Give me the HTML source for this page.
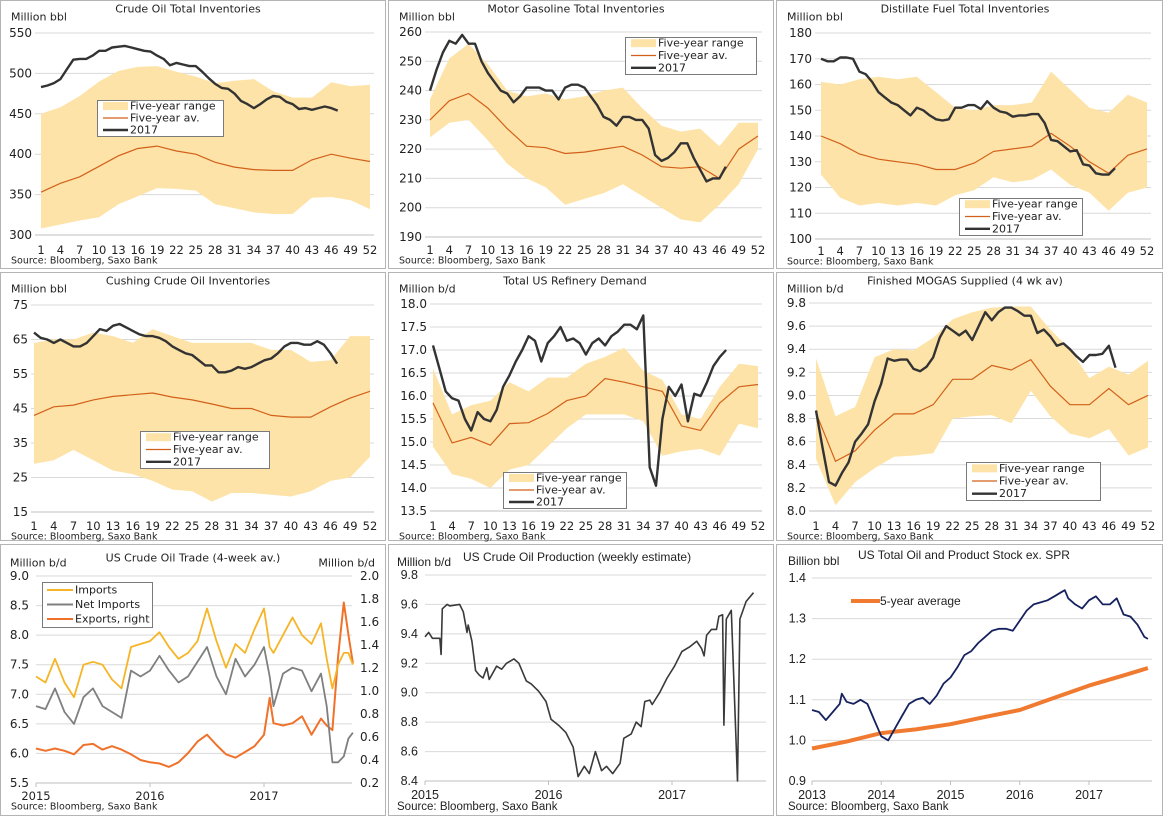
<!DOCTYPE html>
<html><head><meta charset="utf-8"><style>
html,body{margin:0;padding:0;background:#fff;}
svg{display:block;}
.t{font-family:"DejaVu Sans","Liberation Sans",sans-serif;fill:#222;}
.n{font-family:"Liberation Sans",sans-serif;fill:#222;}
</style></head><body>
<svg id="chart" width="1163" height="816" viewBox="0 0 1163 816" xmlns="http://www.w3.org/2000/svg"></svg>
<script>
// ---------- DATA ----------
const bandWeeks=[1,4,7,10,13,16,19,22,25,28,31,34,37,40,43,46,49,52];
const xWeekTicks=[1,4,7,10,13,16,19,22,25,28,31,34,37,40,43,46,49,52];
// crude
const crudeHigh=[450,458,472,490,503,508,509,502,496,488,491,493,478,470,470,489,484,486];
const crudeLow=[308,313,318,322,338,348,358,357,355,338,333,328,326,326,346,347,343,332];
const crudeAvg=[353,364,372,385,398,407,410,404,400,390,384,381,380,380,393,400,395,391];
const crude2017=[483,485,488,493,505,517,518,518,522,528,528,532,533,534,532,530,528,527,522,518,510,513,511,509,509,502,494,487,482,481,475,466,462,457,462,468,472,471,465,462,456,457,455,457,459,457,454];
const crudeTicks=[300,350,400,450,500,550];
// gasoline
const gasHigh=[237,251,256,249,240,238,239,237,238,240,241,234,228,226,227,221,229,229];
const gasLow=[224,229,230,223,215,210,207,201,203,205,208,204,200,196,195,201,208,220];
const gasAvg=[230,236.5,239,234,227,221,220.5,218.5,219,220,221,218,214,213.5,214,210,220,224.5];
const gas2017=[240,247,253,257,256,259,256,256,250,246,243,240,239,236,238,241,241,241,240,240,237,241,242,242,241,238,235,231,230,228,231,231,230,230,227,218,216,217,219,222,222,217,213,209,210,210,214];
const gasTicks=[190,200,210,220,230,240,250,260];
// distillate
const distHigh=[161,160,162,163,162,163,157,151,150,152,152,153,165,158,151,149,156,153];
const distLow=[125,116,113,114,113,114,113,117,119,124,122,123,127,121,118,111,118,120];
const distAvg=[140,137,133,131,130,129,127,127,129.5,134,135,136,141,136,130,125.5,132.5,135];
const dist2017=[170,169,169,170.5,170.5,170,165,164,161,157,155,153,152,150,148,151,150,148,146.5,146,146.5,151,151,152,152,150.5,153.5,151,149.5,149,147.5,148,148,148.5,148.5,145,138.5,138,136,134,134.5,129,128.5,125.5,125,125,127.5];
const distTicks=[100,110,120,130,140,150,160,170,180];
// cushing
const cushHigh=[64,65,65,67,66,64,68,66,64,64,64,64,62,62,58.5,59,66,66];
const cushLow=[29,30,33,30,27,26,24,21.5,21,18,20.5,20.5,20,19.5,21,24,25,31];
const cushAvg=[43,45.5,46,47.5,48.5,49,49.5,48.3,47.5,46.3,45,45,43,42.5,42.5,45.5,48,50];
const cush2017=[67,65.5,65,64,65,64,63,63,64,66,68,67.5,69,69.5,68.5,67.5,66.5,66,66,65.5,64.5,63,62,61,60.5,59,57.5,57.5,55.5,55.5,56,57,56.5,57,58,59,59.5,61,63,64,64,63.5,63.5,64.5,63.5,61,58];
const cushTicks=[15,25,35,45,55,65,75];
// refinery
const refHigh=[16.6,15.6,15.8,15.9,16.3,16.1,16.4,16.4,16.7,16.85,17.05,16.55,16.35,15.6,15.5,16.2,16.7,16.65];
const refLow=[14.9,14.3,14.2,14.0,14.4,14.5,14.9,15.3,15.6,15.6,15.6,15.45,14.7,14.8,14.85,14.7,15.4,15.3];
const refAvg=[15.85,14.98,15.1,14.93,15.4,15.42,15.62,15.9,16.0,16.38,16.3,16.2,16.1,15.35,15.25,15.85,16.2,16.25];
const ref2017=[17.1,16.6,16.1,15.95,15.9,15.5,15.25,15.65,15.5,15.45,15.7,16.2,16.45,16.75,17.0,17.3,17.2,16.75,17.15,17.3,17.5,17.2,17.25,17.15,16.9,17.15,17.25,17.1,17.3,17.4,17.55,17.55,17.45,17.75,14.45,14.05,15.5,16.2,16.0,16.25,15.45,16.05,16.0,16.3,16.65,16.85,17.0];
const refTicks=[13.5,14.0,14.5,15.0,15.5,16.0,16.5,17.0,17.5,18.0];
// mogas
const mogHigh=[9.32,8.82,8.9,9.33,9.4,9.39,9.5,9.66,9.72,9.76,9.77,9.77,9.57,9.4,9.15,9.25,9.18,9.3];
const mogLow=[8.45,8.05,8.25,8.37,8.47,8.48,8.5,8.8,8.82,8.83,8.76,9.04,8.82,8.67,8.63,8.71,8.48,8.55];
const mogAvg=[8.85,8.43,8.52,8.7,8.84,8.84,8.92,9.14,9.14,9.26,9.22,9.31,9.08,8.92,8.92,9.06,8.92,9.0];
const mog2017=[8.87,8.55,8.25,8.22,8.33,8.42,8.6,8.67,8.75,8.95,9.1,9.32,9.3,9.31,9.31,9.23,9.21,9.25,9.33,9.5,9.6,9.56,9.52,9.56,9.48,9.6,9.72,9.65,9.72,9.76,9.76,9.73,9.69,9.69,9.54,9.57,9.51,9.43,9.45,9.4,9.34,9.29,9.35,9.35,9.36,9.43,9.24];
const mogTicks=[8.0,8.2,8.4,8.6,8.8,9.0,9.2,9.4,9.6,9.8];
// trade (years since 2015)
const tradeT=[0,0.083,0.167,0.25,0.333,0.417,0.5,0.583,0.667,0.75,0.833,0.917,1.0,1.083,1.167,1.25,1.333,1.417,1.5,1.583,1.667,1.75,1.833,1.917,2.0,2.05,2.083,2.167,2.25,2.333,2.417,2.5,2.55,2.6,2.65,2.7,2.74,2.78];
const tradeImports=[7.3,7.2,7.6,7.2,6.95,7.5,7.55,7.5,7.25,7.1,7.8,7.85,7.9,8.05,7.8,7.6,7.7,7.9,8.45,7.9,7.45,7.85,7.7,8.1,8.45,7.8,7.7,8.0,8.3,8.0,7.85,8.2,7.6,7.1,7.5,7.7,7.7,7.5];
const tradeNet=[6.8,6.75,7.1,6.7,6.5,6.95,7.1,6.8,6.7,6.6,7.4,7.3,7.4,7.65,7.4,7.2,7.3,7.55,7.8,7.3,7.0,7.6,7.3,7.5,7.8,7.3,6.8,7.35,7.45,7.4,7.05,7.35,6.8,5.85,5.85,5.95,6.25,6.35];
const tradeExports=[0.50,0.48,0.50,0.48,0.45,0.53,0.54,0.49,0.52,0.49,0.45,0.40,0.38,0.37,0.34,0.38,0.46,0.56,0.62,0.53,0.45,0.42,0.47,0.52,0.62,0.94,0.72,0.70,0.72,0.78,0.62,0.76,0.70,0.66,1.30,1.77,1.49,1.24];
const tradeLeftTicks=[5.5,6.0,6.5,7.0,7.5,8.0,8.5,9.0];
const tradeRightTicks=[0.2,0.4,0.6,0.8,1.0,1.2,1.4,1.6,1.8,2.0];
const tradeYearLabels=["2015","2016","2017"];
// production (years since 2015)
const prodT=[0,0.03,0.06,0.12,0.13,0.14,0.18,0.2,0.28,0.31,0.34,0.35,0.38,0.41,0.44,0.47,0.5,0.52,0.58,0.62,0.66,0.72,0.76,0.82,0.86,0.92,0.98,1.02,1.08,1.14,1.2,1.24,1.29,1.33,1.38,1.43,1.47,1.52,1.58,1.61,1.67,1.71,1.75,1.78,1.82,1.84,1.9,1.96,2.02,2.08,2.14,2.2,2.24,2.26,2.28,2.32,2.36,2.38,2.41,2.42,2.44,2.48,2.53,2.55,2.6,2.66];
const prodV=[9.38,9.41,9.37,9.37,9.26,9.57,9.6,9.59,9.6,9.55,9.41,9.46,9.35,9.15,9.12,9.1,9.17,9.09,9.18,9.16,9.2,9.23,9.2,9.08,9.06,9.01,8.94,8.82,8.78,8.73,8.63,8.43,8.5,8.45,8.6,8.47,8.5,8.45,8.52,8.69,8.72,8.8,8.77,8.94,8.95,8.92,9.0,9.1,9.18,9.28,9.31,9.35,9.3,9.25,9.39,9.43,9.43,9.52,9.53,8.78,9.5,9.56,8.4,9.5,9.62,9.68];
const prodTicks=[8.4,8.6,8.8,9.0,9.2,9.4,9.6,9.8];
// stock (years since 2013)
const stockT=[0,0.1,0.2,0.3,0.4,0.43,0.5,0.6,0.7,0.8,0.9,1.0,1.1,1.2,1.3,1.4,1.5,1.6,1.7,1.8,1.9,2.0,2.1,2.2,2.3,2.4,2.5,2.6,2.7,2.8,2.9,3.0,3.1,3.2,3.3,3.4,3.5,3.6,3.65,3.7,3.8,3.9,4.0,4.1,4.2,4.3,4.4,4.5,4.6,4.7,4.8,4.85];
const stockV=[1.075,1.07,1.05,1.07,1.09,1.115,1.095,1.09,1.1,1.09,1.05,1.01,1.0,1.03,1.06,1.09,1.1,1.105,1.09,1.11,1.14,1.155,1.18,1.21,1.22,1.24,1.255,1.27,1.275,1.275,1.27,1.295,1.32,1.335,1.34,1.345,1.355,1.365,1.37,1.35,1.335,1.325,1.345,1.355,1.335,1.335,1.35,1.31,1.305,1.285,1.255,1.25];
const stockAvgT=[0,0.5,1,1.5,2,2.5,3,3.5,4,4.5,4.85];
const stockAvgV=[0.98,0.997,1.018,1.027,1.04,1.058,1.075,1.105,1.135,1.16,1.178];
const stockTicks=[0.9,1.0,1.1,1.2,1.3,1.4];
const stockYearLabels=["2013","2014","2015","2016","2017"];
const prodYearLabels=["2015","2016","2017"];

// ---------- DRAWING ----------
const NS="http://www.w3.org/2000/svg";
const svg=document.getElementById('chart');
function mk(tag,attrs,parent){const e=document.createElementNS(NS,tag);for(const k in attrs)e.setAttribute(k,attrs[k]);(parent||svg).appendChild(e);return e;}
function txt(s,x,y,size,anchor,cls,parent){const e=mk('text',{x:x,y:y,'font-size':size,'text-anchor':anchor||'start','dominant-baseline':'central','class':cls||'t'},parent);e.textContent=s;return e;}
function lin(v0,p0,v1,p1){return v=>p0+(v-v0)*(p1-p0)/(v1-v0);}
function path(xs,ys){return xs.map((x,i)=>(i?'L':'M')+x.toFixed(1)+','+ys[i].toFixed(1)).join('');}

function frame(name,x,y,w,h){const g=mk('g',{});
 const r=mk('rect',{x:x+0.5,y:y+0.5,width:w,height:h,fill:'#fff',stroke:'#b4b4b4','stroke-width':1},g);
 return g;}

function weekly(o,high,low,avg,cur,ticks){
 const g=frame(o.name,o.bx,o.by,o.bw,o.bh);
 const X=lin(1,o.x1,52,o.x52), Y=lin(ticks[0],o.yb,ticks[ticks.length-1],o.yt);
 const t=txt(o.title,o.tx,o.ty,11,'middle','t',g);
 const u=txt(o.unit,o.bx+11,o.ty+8,11,'start','t',g);
 ticks.forEach((v,i)=>{ if(i>0){const l=mk('line',{x1:o.gl,x2:o.x52+4,y1:Y(v),y2:Y(v),stroke:'#d9d9d9','stroke-width':1},g);}
  const lb=txt(o.fmt?v.toFixed(1):String(v),o.gl-3,Y(v),12,'end','t',g);});
 const band=mk('path',{d:path(bandWeeks.map(X).concat(bandWeeks.slice().reverse().map(X)),high.map(Y).concat(low.slice().reverse().map(Y)))+'Z',fill:'#fde3a7',stroke:'none'},g);
 
 const ax=mk('line',{x1:o.gl,x2:o.x52+4,y1:o.yb,y2:o.yb,stroke:'#bfbfbf','stroke-width':1},g);
 const a=mk('path',{d:path(bandWeeks.map(X),avg.map(Y)),fill:'none',stroke:'#d2601a','stroke-width':1.2},g);
 const cw=cur.map((v,i)=>i+1);
 const c=mk('path',{d:path(cw.map(X),cur.map(Y)),fill:'none',stroke:'#333','stroke-width':2.4,'stroke-linejoin':'round'},g);
 xWeekTicks.forEach(w=>{const l=txt(String(w),X(w),o.xty,11.5,'middle','t',g);});
 const s=txt('Source: Bloomberg, Saxo Bank',o.bx+11,o.xty+11,9.5,'start','t',g);
 // legend
 const L=o.leg, lg=mk('g',{},g);
 mk('rect',{x:L[0]+0.5,y:L[1]+0.5,width:L[2]-L[0],height:L[3]-L[1],fill:'#fff',stroke:'#7a7a7a'},lg);
 const rh=(L[3]-L[1])/3, sx=L[0]+6, ex=L[0]+31;
 const sw=mk('rect',{x:sx,y:L[1]+rh*0.5-4,width:ex-sx,height:8,fill:'#fde3a7'},lg);
 const la=mk('line',{x1:sx,x2:ex,y1:L[1]+rh*1.5,y2:L[1]+rh*1.5,stroke:'#d2601a','stroke-width':1.2},lg);
 const lc=mk('line',{x1:sx,x2:ex,y1:L[1]+rh*2.5,y2:L[1]+rh*2.5,stroke:'#333','stroke-width':2.4},lg);
 ['Five-year range','Five-year av.','2017'].forEach((s,i)=>{const e=txt(s,ex+2,L[1]+rh*(i+0.5),11,'start','t',lg);});
}

weekly({name:'crude-oil-panel',bx:0,by:0,bw:385,bh:268,x1:41,x52:370,gl:35,yt:33,yb:235,tx:188,ty:9,unit:'Million bbl',title:'Crude Oil Total Inventories',xty:250,leg:[97,100,223,136]},crudeHigh,crudeLow,crudeAvg,crude2017,crudeTicks);
weekly({name:'gasoline-panel',bx:388,by:0,bw:385,bh:268,x1:430,x52:758,gl:425,yt:32,yb:237,tx:576,ty:9,unit:'Million bbl',title:'Motor Gasoline Total Inventories',xty:250,leg:[625,37,756,74]},gasHigh,gasLow,gasAvg,gas2017,gasTicks);
weekly({name:'distillate-panel',bx:776,by:0,bw:386,bh:268,x1:821,x52:1147,gl:815,yt:33,yb:239,tx:965,ty:9,unit:'Million bbl',title:'Distillate Fuel Total Inventories',xty:251,leg:[959,198,1082,235]},distHigh,distLow,distAvg,dist2017,distTicks);
weekly({name:'cushing-panel',bx:0,by:272,bw:385,bh:268,x1:34,x52:370,gl:31,yt:305,yb:512,tx:188,ty:281,unit:'Million bbl',title:'Cushing Crude Oil Inventories',xty:526,leg:[140,431,269,468]},cushHigh,cushLow,cushAvg,cush2017,cushTicks);
weekly({name:'refinery-demand-panel',bx:388,by:272,bw:385,bh:268,x1:433,x52:758,gl:430,yt:304,yb:511,tx:575,ty:281,unit:'Million b/d',title:'Total US Refinery Demand',xty:526,leg:[503,472,626,508],fmt:1},refHigh,refLow,refAvg,ref2017,refTicks);
weekly({name:'mogas-panel',bx:776,by:272,bw:386,bh:268,x1:816,x52:1148,gl:809,yt:303,yb:511,tx:965,ty:281,unit:'Million b/d',title:'Finished MOGAS Supplied (4 wk av)',xty:526,leg:[966,462,1100,500],fmt:1},mogHigh,mogLow,mogAvg,mog2017,mogTicks);

// trade panel
(function(){
 const g=frame('crude-trade-panel',0,544,385,271);
 const X=lin(0,36,2,264), YL=lin(5.5,783,9.0,576), YR=lin(0.2,783,2.0,576);
 let e=txt('US Crude Oil Trade (4-week av.)',193,558,11,'middle','t',g);
 e=txt('Million b/d',10,563,11,'start','t',g);
 e=txt('Million b/d',375,563,11,'end','t',g);
 tradeLeftTicks.forEach((v,i)=>{ if(i>0){const l=mk('line',{x1:36,x2:352,y1:YL(v),y2:YL(v),stroke:'#d9d9d9'},g);}
  const t=txt(v.toFixed(1),29,YL(v),12,'end','t',g);});
 tradeRightTicks.forEach(v=>{const t=txt(v.toFixed(1),360,YR(v),12,'start','t',g);});
 const ax=mk('line',{x1:36,x2:352,y1:783,y2:783,stroke:'#bfbfbf'},g);
 tradeYearLabels.forEach((s,i)=>{const t=txt(s,X(i),796,11.5,'middle','t',g);
  const tk=mk('line',{x1:X(i),x2:X(i),y1:783,y2:787,stroke:'#bfbfbf'},g);});
 const xs=tradeT.map(X);
 let p=mk('path',{d:path(xs,tradeExports.map(YR)),fill:'none',stroke:'#f0712a','stroke-width':2,'stroke-linejoin':'round'},g);
 p=mk('path',{d:path(xs,tradeNet.map(YL)),fill:'none',stroke:'#7f7f7f','stroke-width':1.8,'stroke-linejoin':'round'},g);
 p=mk('path',{d:path(xs,tradeImports.map(YL)),fill:'none',stroke:'#f5b526','stroke-width':1.8,'stroke-linejoin':'round'},g);
 const s=txt('Source: Bloomberg, Saxo Bank',11,807,9.5,'start','t',g);
 const lg=mk('g',{},g);
 mk('rect',{x:42.5,y:582.5,width:110,height:45,fill:'#fff',stroke:'#7a7a7a'},lg);
 [['Imports','#f5b526'],['Net Imports','#7f7f7f'],['Exports, right','#f0712a']].forEach((d,i)=>{const yy=590+i*14.5;
  const l=mk('line',{x1:47,x2:73,y1:yy,y2:yy,stroke:d[1],'stroke-width':2},lg);
  const t=txt(d[0],75,yy,11,'start','t',lg);});
})();

// production panel
(function(){
 const g=frame('production-panel',388,544,385,271);
 const X=lin(0,425,2,672), Y=lin(8.4,781,9.8,575);
 let e=txt('US Crude Oil Production (weekly estimate)',463,557,12,'start','n',g);
 e=txt('Million b/d',397,562,12,'start','n',g);
 prodTicks.forEach((v,i)=>{ if(i>0){const l=mk('line',{x1:425,x2:766,y1:Y(v),y2:Y(v),stroke:'#d9d9d9'},g);}
  const t=txt(v.toFixed(1),418,Y(v),12.5,'end','n',g);});
 const ax=mk('line',{x1:425,x2:766,y1:781,y2:781,stroke:'#bfbfbf'},g);
 prodYearLabels.forEach((s,i)=>{const t=txt(s,X(i),795,12.5,'middle','n',g);
  const tk=mk('line',{x1:X(i),x2:X(i),y1:781,y2:785,stroke:'#bfbfbf'},g);});
 const p=mk('path',{d:path(prodT.map(X),prodV.map(Y)),fill:'none',stroke:'#3a3a3a','stroke-width':1.6,'stroke-linejoin':'round'},g);
 const s=txt('Source: Bloomberg, Saxo Bank',397,807,11.5,'start','n',g);
})();

// stock panel
(function(){
 const g=frame('total-stock-panel',776,544,386,271);
 const X=lin(0,812,4,1089), Y=lin(0.9,781,1.4,578);
 let e=txt('US Total Oil and Product Stock ex. SPR',858,555,12,'start','n',g);
 e=txt('Billion bbl',788,561,12,'start','n',g);
 stockTicks.forEach((v,i)=>{ if(i>0){const l=mk('line',{x1:812,x2:1152,y1:Y(v),y2:Y(v),stroke:'#d9d9d9'},g);}
  const t=txt(v.toFixed(1),806,Y(v),12.5,'end','n',g);});
 const ax=mk('line',{x1:812,x2:1152,y1:781,y2:781,stroke:'#bfbfbf'},g);
 stockYearLabels.forEach((s,i)=>{const t=txt(s,X(i),795,12.5,'middle','n',g);
  const tk=mk('line',{x1:X(i),x2:X(i),y1:781,y2:785,stroke:'#bfbfbf'},g);});
 let p=mk('path',{d:path(stockAvgT.map(X),stockAvgV.map(Y)),fill:'none',stroke:'#f07a30','stroke-width':4,'stroke-linejoin':'round'},g);
 p=mk('path',{d:path(stockT.map(X),stockV.map(Y)),fill:'none',stroke:'#16225e','stroke-width':1.8,'stroke-linejoin':'round'},g);
 const ll=mk('line',{x1:851,x2:880,y1:601,y2:601,stroke:'#f07a30','stroke-width':4},g);
 const lt=txt('5-year average',880,601,12,'start','n',g);
 const s=txt('Source: Bloomberg, Saxo Bank',788,807,11.5,'start','n',g);
})();
</script>
</body></html>
